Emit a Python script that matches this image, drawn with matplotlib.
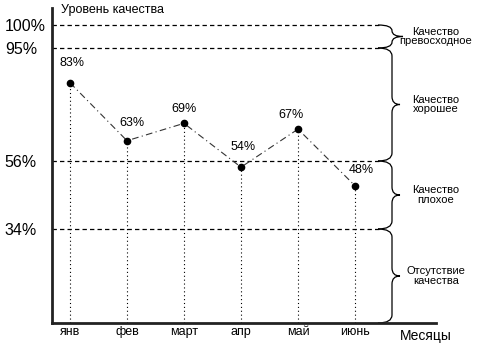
import numpy as np
import matplotlib
matplotlib.use("Agg")
import matplotlib.pyplot as plt
from matplotlib.path import Path
from matplotlib.patches import PathPatch

# ── DATA ──────────────────────────────────────────────────────────────────────
months = ["янв", "фев", "март", "апр", "май", "июнь"]
quality = [83, 63, 69, 54, 67, 48]
levels = [34, 56, 95, 100]
level_labels = ["34%", "56%", "95%", "100%"]
zones = [(95, 100, "Качество\nпревосходное"),
         (56, 95, "Качество\nхорошее"),
         (34, 56, "Качество\nплохое"),
         (0, 34, "Отсутствие\nкачества")]
# label offsets (points) for the value annotations
label_off = [(1.5, 14.5), (3.6, 12.5), (0, 10), (1.5, 14.5), (-5, 10), (4.3, 11)]
# ─────────────────────────────────────────────────────────────────────────────

plt.rcParams["font.family"] = ["Liberation Sans", "DejaVu Sans"]

# the schematic uses an uneven vertical scale: piecewise linear
sv = [0, 34, 56, 95, 100, 110]
sp = [0, 94, 162, 275, 298, 344]
fwd = lambda v: np.interp(v, sv, sp)
inv = lambda p: np.interp(p, sp, sv)

fig = plt.figure(figsize=(4.8, 3.6), dpi=100)
ax = fig.add_axes([52 / 480, 37 / 360, 384 / 480, 315 / 360])
ax.set_yscale("function", functions=(fwd, inv))
ax.set_ylim(0, inv(315))
x = np.arange(len(months))
ax.set_xlim(-18 / 57, 5 + 81 / 57)

for s in ["top", "right"]:
    ax.spines[s].set_visible(False)
for s in ["left", "bottom"]:
    ax.spines[s].set_linewidth(2)
    ax.spines[s].set_color("#222222")

# horizontal level lines
xend = (380 - 52) / 384
for lv in levels:
    ax.axhline(lv, xmin=0, xmax=xend, color="black", lw=0.9,
               ls=(0, (3.5, 2.5)))

# vertical drop lines
for xi, q in zip(x, quality):
    ax.plot([xi, xi], [0, q], color="black", lw=0.8, ls=(0, (1, 2.5)))

ax.plot(x, quality, color="#333333", lw=0.8, ls=(0, (6, 3, 1, 3)))
ax.plot(x, quality, "o", color="black", ms=4.5)

for xi, q, off in zip(x, quality, label_off):
    ax.annotate(f"{q}%", (xi, q), xytext=off, textcoords="offset points",
                ha="center", va="center", fontsize=9)

ax.set_yticks(levels)
ax.set_yticklabels(level_labels, fontsize=11.5)
for t in ax.get_yticklabels():
    t.set_horizontalalignment("left")
ax.tick_params(axis="y", length=0, pad=34)
ax.set_xticks(x)
ax.set_xticklabels(months, fontsize=9)
ax.tick_params(axis="x", length=0, pad=2.5)

# braces on the right
to_ax = ax.transScale + ax.transLimits
W, H = 384.0, 315.0
bx = (392 - 52) / W
sx = (378 - 52) / W
for lo, hi, txt in zones:
    yt = to_ax.transform((0, hi))[1]
    yb = to_ax.transform((0, lo))[1]
    ym = (yt + yb) / 2
    r = min(8 / H, (yt - yb) / 4)
    tip = (400 - 52) / W if hi < 100 else (403 - 52) / W
    verts = [(sx, yt), (bx, yt), (bx, yt - r),
             (bx, ym + r), (bx, ym), (tip, ym),
             (bx, ym), (bx, ym - r),
             (bx, yb + r), (bx, yb), (sx, yb)]
    codes = [Path.MOVETO, Path.CURVE3, Path.CURVE3,
             Path.LINETO, Path.CURVE3, Path.CURVE3,
             Path.CURVE3, Path.CURVE3,
             Path.LINETO, Path.CURVE3, Path.CURVE3]
    ax.add_patch(PathPatch(Path(verts, codes), transform=ax.transAxes,
                           fill=False, lw=0.9, color="black", clip_on=False))
    ax.text((436 - 52) / W, ym, txt, transform=ax.transAxes, ha="center",
            va="center", fontsize=8, linespacing=0.95)

fig.text(61 / 480, 1 - 10 / 360, "Уровень качества", ha="left", va="center",
         fontsize=9)
fig.text(426 / 480, 1 - 336 / 360, "Месяцы", ha="center", va="center",
         fontsize=10)

fig.savefig("out.png", dpi=100)
